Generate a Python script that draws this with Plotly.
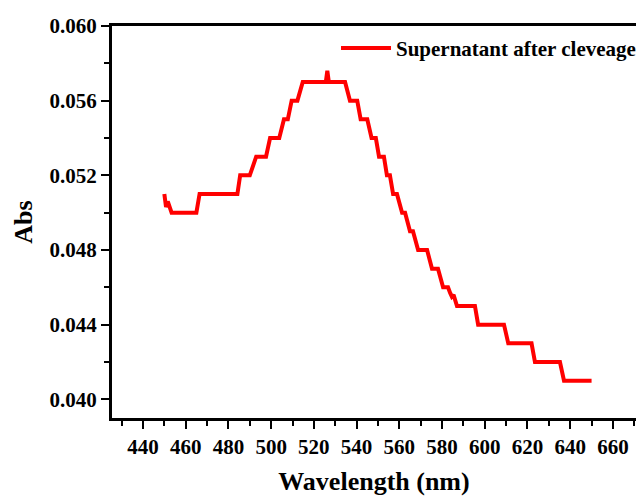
import plotly.graph_objects as go

# Wavelength (nm) and absorbance (step vertices)
wavelength = [450, 450.8, 451.6, 452.3, 453.4, 465, 466.5, 484.2, 485.5, 490, 493,
              497.6, 499.5, 503.8, 506, 507.8, 509.6, 512.3, 514.8, 525.6, 526.3,
              527.0, 534.6, 536.9, 540.3, 541.9, 545, 547, 549, 550.5, 552.8,
              554.2, 555.6, 557.1, 558.9, 561.3, 562.7, 565, 566.4, 568.8, 573,
              575.3, 578.1, 580.5, 582.8, 583.8, 584.6, 585.4, 587, 595.4, 596.9,
              609, 611, 621.9, 623.5, 635.2, 637.1, 650]
absorbance = [0.0510, 0.0503, 0.0506, 0.0504, 0.0500, 0.0500, 0.0510, 0.0510, 0.0520, 0.0520, 0.0530,
              0.0530, 0.0540, 0.0540, 0.0550, 0.0550, 0.0560, 0.0560, 0.0570, 0.0570, 0.0576,
              0.0570, 0.0570, 0.0560, 0.0560, 0.0550, 0.0550, 0.0540, 0.0540, 0.0530, 0.0530,
              0.0520, 0.0520, 0.0510, 0.0510, 0.0500, 0.0500, 0.0490, 0.0490, 0.0480, 0.0480,
              0.0470, 0.0470, 0.0460, 0.0460, 0.0457, 0.0455, 0.0456, 0.0450, 0.0450, 0.0440,
              0.0440, 0.0430, 0.0430, 0.0420, 0.0420, 0.0410, 0.0410]

series_name = "Supernatant after cleveage"
x_title = "Wavelength (nm)"
y_title = "Abs"
x_ticks = [440, 460, 480, 500, 520, 540, 560, 580, 600, 620, 640, 660]
y_ticks = [0.040, 0.044, 0.048, 0.052, 0.056, 0.060]
y_ticklabels = ["0.040", "0.044", "0.048", "0.052", "0.056", "0.060"]

FONT = "Liberation Serif, Times New Roman, serif"

fig = go.Figure()
fig.add_trace(go.Scatter(
    x=wavelength, y=absorbance, mode="lines", name=series_name,
    line=dict(color="#ff0000", width=4),
))

axis_common = dict(
    showline=True, linecolor="black", linewidth=3,
    showgrid=False, zeroline=False, ticks="outside", tickcolor="black",
    tickwidth=2, ticklen=8,
    tickfont=dict(family=FONT, size=21, color="black", weight="bold"),
)

fig.update_xaxes(
    **axis_common,
    mirror=True,
    range=[425.5, 670.8],
    tickvals=x_ticks,
    minor=dict(dtick=10, tick0=0, ticks="outside", ticklen=5, tickwidth=2, tickcolor="black"),
    title=dict(text=x_title, font=dict(family=FONT, size=26, color="black", weight="bold"), standoff=16),
)
fig.update_yaxes(
    **axis_common,
    mirror=False,
    range=[0.039, 0.060],
    tickvals=y_ticks, ticktext=y_ticklabels,
    minor=dict(dtick=0.002, tick0=0, ticks="outside", ticklen=5, tickwidth=2, tickcolor="black"),
    title=dict(text=y_title, font=dict(family=FONT, size=26, color="black", weight="bold"), standoff=10),
)

fig.update_layout(
    width=636, height=496,
    margin=dict(l=112, r=0, t=26, b=78, autoexpand=False),
    paper_bgcolor="white", plot_bgcolor="white",
    showlegend=True,
    legend=dict(
        x=0.4275, y=0.995, xanchor="left", yanchor="top",
        bgcolor="rgba(0,0,0,0)", borderwidth=0,
        font=dict(family=FONT, size=21, color="black", weight="bold"),
        itemwidth=50,
    ),
)

# remove the default page margin so the figure fills the 636x496 window exactly
fig.write_html(
    "out.html",
    config={"displayModeBar": False},
    post_script="document.body.style.margin='0';document.body.style.overflow='hidden';",
)
